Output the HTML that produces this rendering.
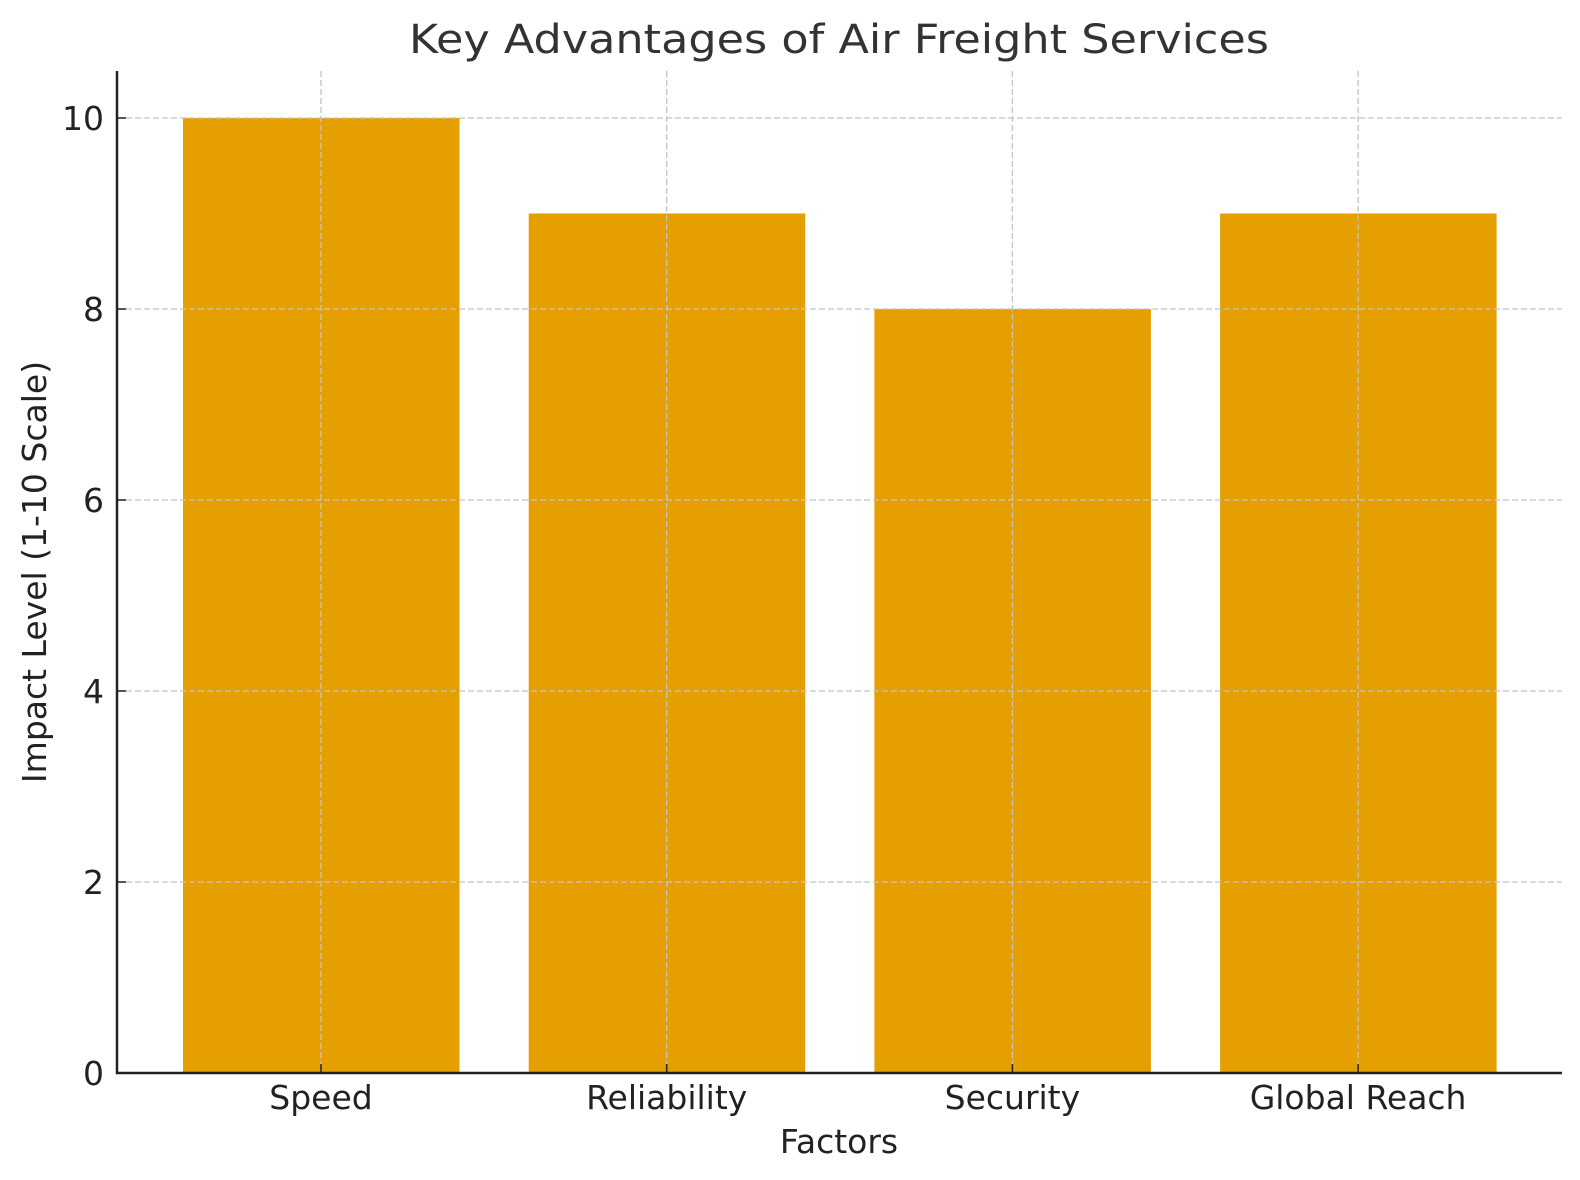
<!DOCTYPE html>
<html><head><meta charset="utf-8"><style>body{margin:0;background:#fff}svg{display:block}</style></head><body>
<svg width="1580" height="1180" xmlns="http://www.w3.org/2000/svg" font-family="DejaVu Sans, Liberation Sans, sans-serif">
<rect width="1580" height="1180" fill="#fff"/>
<g fill="#E69F00">
<rect x="183" y="118" width="276.5" height="955"/>
<rect x="528.7" y="213.5" width="276.5" height="859.5"/>
<rect x="874.4" y="309" width="276.5" height="764"/>
<rect x="1220.1" y="213.5" width="276.5" height="859.5"/>
</g>
<g stroke="#c4c4c4" stroke-width="1.3" stroke-dasharray="6,3">
<line x1="117" x2="1562" y1="118" y2="118"/>
<line x1="117" x2="1562" y1="309" y2="309"/>
<line x1="117" x2="1562" y1="500" y2="500"/>
<line x1="117" x2="1562" y1="691" y2="691"/>
<line x1="117" x2="1562" y1="882" y2="882"/>
<line x1="321" x2="321" y1="71" y2="1073"/>
<line x1="666.7" x2="666.7" y1="71" y2="1073"/>
<line x1="1012.4" x2="1012.4" y1="71" y2="1073"/>
<line x1="1358.1" x2="1358.1" y1="71" y2="1073"/>
</g>
<g stroke="#222" stroke-width="1.5">
<line x1="117" x2="126" y1="118" y2="118"/><line x1="117" x2="126" y1="309" y2="309"/><line x1="117" x2="126" y1="500" y2="500"/><line x1="117" x2="126" y1="691" y2="691"/><line x1="117" x2="126" y1="882" y2="882"/><line x1="117" x2="126" y1="1073" y2="1073"/>
<line x1="321" x2="321" y1="1064" y2="1073"/><line x1="666.7" x2="666.7" y1="1064" y2="1073"/><line x1="1012.4" x2="1012.4" y1="1064" y2="1073"/><line x1="1358.1" x2="1358.1" y1="1064" y2="1073"/>
</g>
<g stroke="#222" stroke-width="2.5"><line x1="117" x2="117" y1="71" y2="1074"/><line x1="116" x2="1562" y1="1073" y2="1073"/></g>
<g fill="#222" font-size="33" text-anchor="end">
<text x="104" y="130">10</text><text x="104" y="321">8</text><text x="104" y="512">6</text><text x="104" y="703">4</text><text x="104" y="894">2</text><text x="104" y="1085">0</text>
</g>
<g fill="#222" font-size="33" text-anchor="middle">
<text x="321" y="1109">Speed</text><text x="666.7" y="1109">Reliability</text><text x="1012.4" y="1109">Security</text><text x="1358.1" y="1109">Global Reach</text>
<text x="839" y="1153">Factors</text>
<text transform="translate(46,572) rotate(-90)">Impact Level (1-10 Scale)</text>
</g>
<text x="839" y="53" text-anchor="middle" font-size="40" fill="#333" textLength="860" lengthAdjust="spacingAndGlyphs">Key Advantages of Air Freight Services</text>
</svg>
</body></html>
